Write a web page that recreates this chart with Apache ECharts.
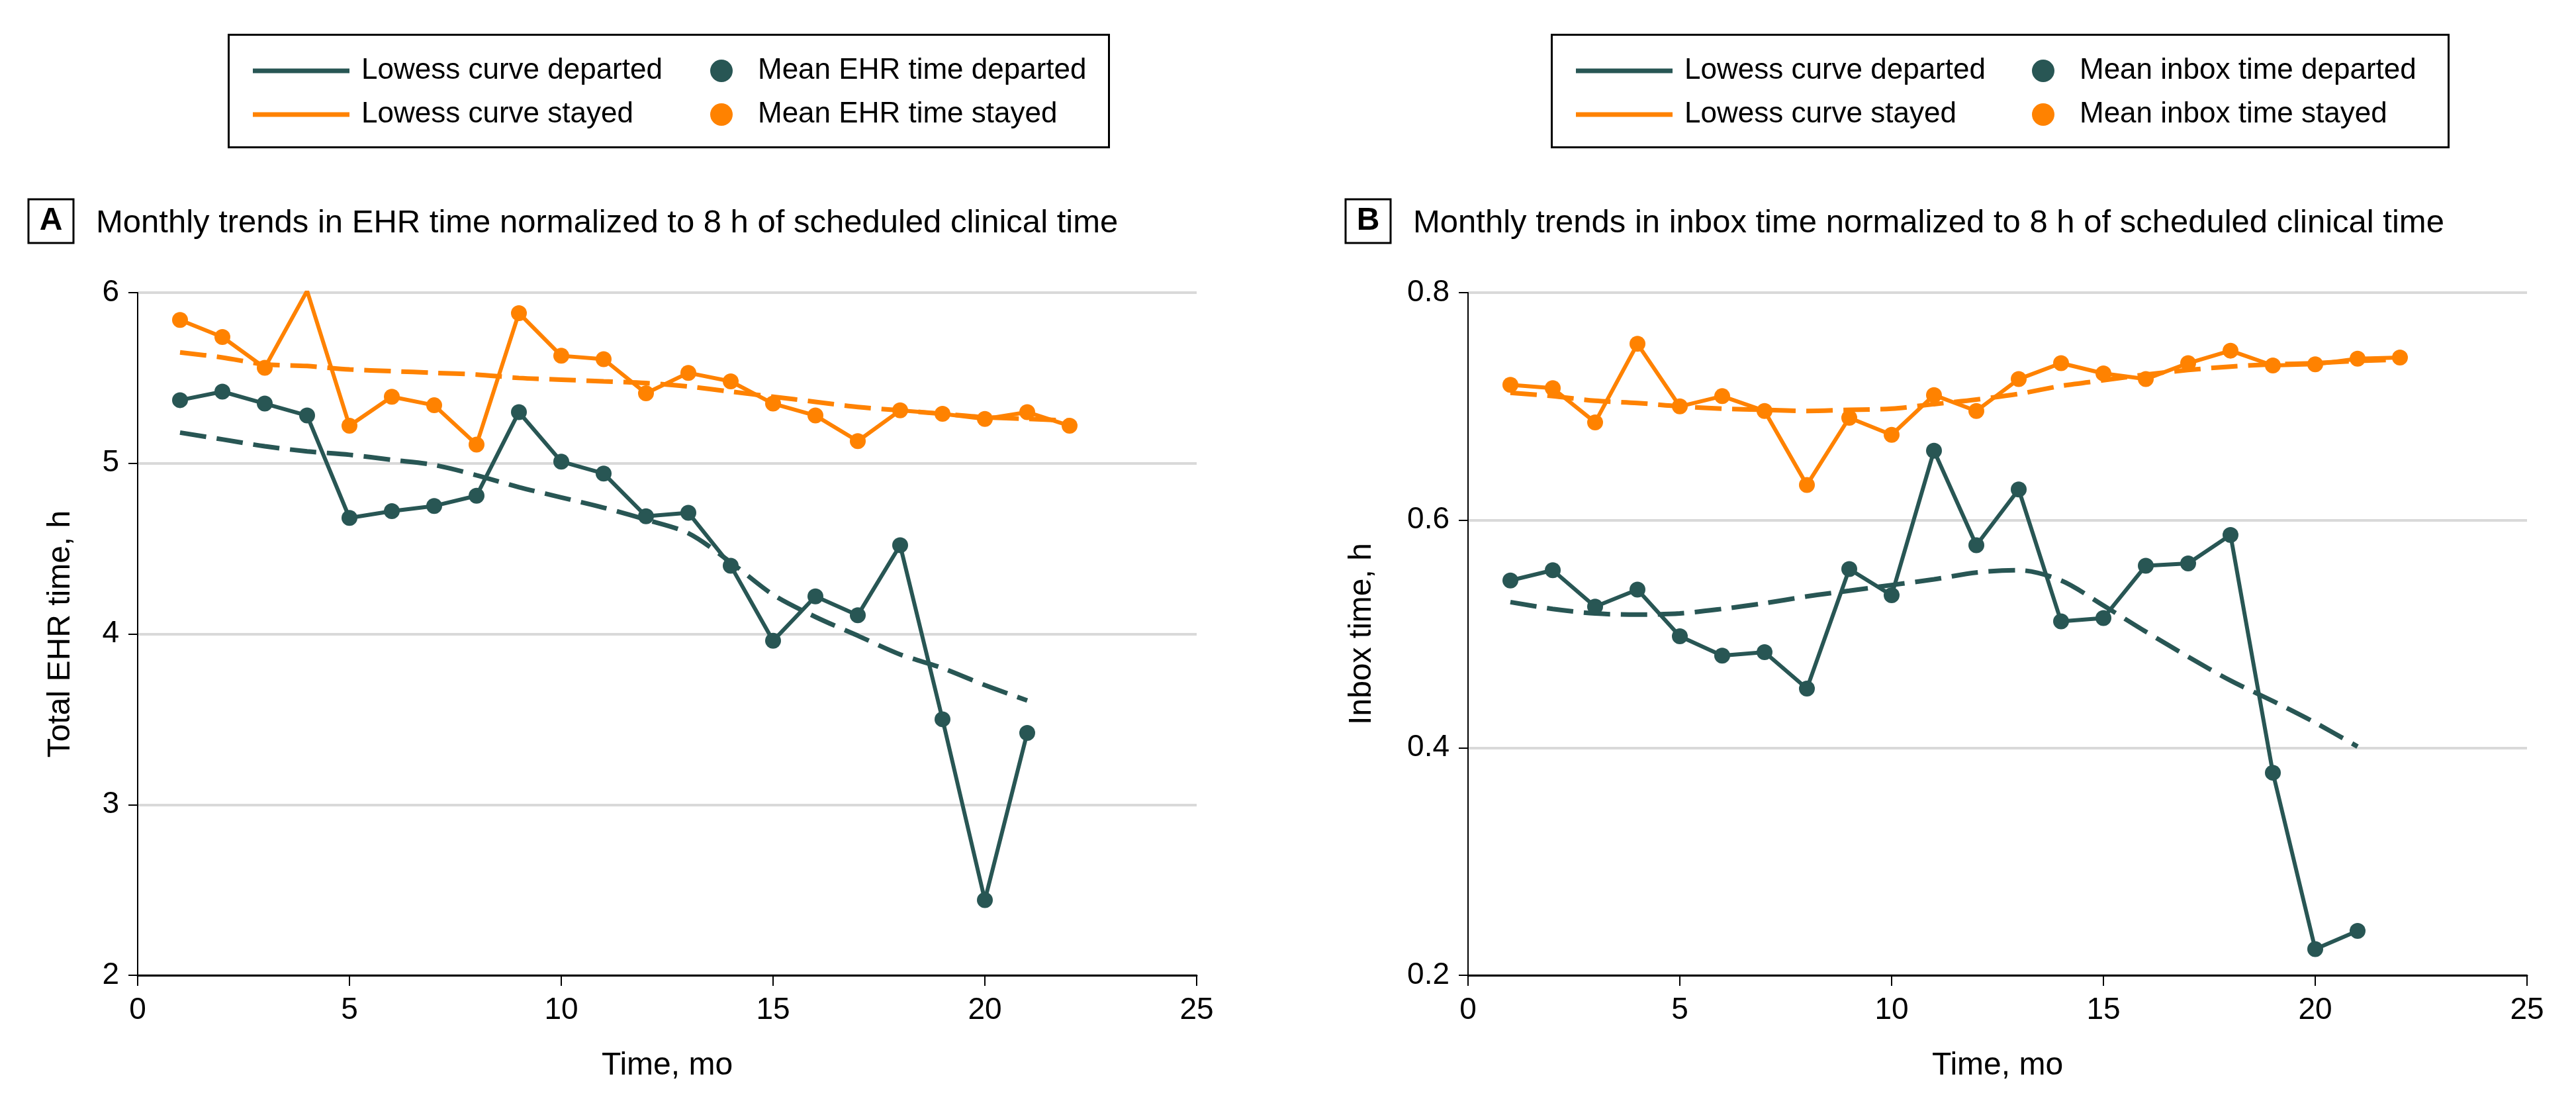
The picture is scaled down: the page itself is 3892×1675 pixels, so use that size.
<!DOCTYPE html>
<html>
<head>
<meta charset="utf-8">
<script src="https://cdn.jsdelivr.net/npm/echarts@6/dist/echarts.min.js"></script>
<style>
html,body{margin:0;padding:0;background:#fff;}
#c{width:3892px;height:1675px;}
</style>
</head>
<body>
<div id="c"></div>
<script>
// ---- Data ----
var monthsStayed = [1,2,3,4,5,6,7,8,9,10,11,12,13,14,15,16,17,18,19,20,21,22];
var monthsDeparted = [1,2,3,4,5,6,7,8,9,10,11,12,13,14,15,16,17,18,19,20,21];

var ehrStayed = [5.84,5.74,5.56,6.01,5.22,5.39,5.34,5.11,5.88,5.63,5.61,5.41,5.53,5.48,5.35,5.28,5.13,5.31,5.29,5.26,5.30,5.22];
var ehrDeparted = [5.37,5.42,5.35,5.28,4.68,4.72,4.75,4.81,5.30,5.01,4.94,4.69,4.71,4.40,3.96,4.22,4.11,4.52,3.50,2.44,3.42];
var ehrLowessStayed = [5.65,5.62,5.58,5.57,5.55,5.54,5.53,5.52,5.50,5.49,5.48,5.47,5.45,5.42,5.39,5.36,5.33,5.31,5.29,5.27,5.26,5.25];
var ehrLowessDeparted = [5.18,5.14,5.10,5.07,5.05,5.02,4.99,4.93,4.86,4.80,4.74,4.67,4.59,4.42,4.23,4.10,3.99,3.88,3.80,3.70,3.61];

var inboxStayed = [0.719,0.716,0.686,0.755,0.700,0.709,0.696,0.631,0.690,0.675,0.710,0.696,0.724,0.738,0.729,0.724,0.738,0.749,0.736,0.737,0.742,0.743];
var inboxDeparted = [0.547,0.556,0.524,0.539,0.498,0.481,0.484,0.452,0.557,0.534,0.661,0.578,0.627,0.511,0.514,0.560,0.562,0.587,0.378,0.223,0.239];
var inboxLowessStayed = [0.712,0.709,0.705,0.703,0.700,0.698,0.697,0.696,0.697,0.698,0.702,0.706,0.711,0.718,0.723,0.728,0.732,0.735,0.737,0.738,0.740,0.741];
var inboxLowessDeparted = [0.528,0.522,0.518,0.517,0.518,0.522,0.527,0.533,0.538,0.543,0.548,0.554,0.556,0.547,0.525,0.502,0.480,0.459,0.441,0.422,0.401];

var xTicks = [0,5,10,15,20,25];
var ehrTicks = [2,3,4,5,6];
var inboxTicks = [0.2,0.4,0.6,0.8];

var titleA = 'Monthly trends in EHR time normalized to 8 h of scheduled clinical time';
var titleB = 'Monthly trends in inbox time normalized to 8 h of scheduled clinical time';

// ---- Style ----
var GREEN = '#285654';
var ORANGE = '#ff8200';
var NARROW = "'Liberation Sans Narrow','Liberation Sans',Arial,sans-serif";
var SANS = "'Liberation Sans',Arial,sans-serif";

function pairs(xs, ys){ return xs.map(function(x,i){ return [x, ys[i]]; }); }

function xAxisCfg(gi){
  return {
    gridIndex: gi, type: 'value', min: xTicks[0], max: xTicks[xTicks.length-1], interval: xTicks[1]-xTicks[0],
    name: 'Time, mo', nameLocation: 'middle', nameGap: 113,
    nameTextStyle: {fontFamily: SANS, fontSize: 48, color: '#000'},
    axisLine: {show: true, onZero: false, lineStyle: {color: '#000', width: 3}},
    axisTick: {show: true, length: 16, lineStyle: {color: '#000', width: 2}},
    axisLabel: {fontFamily: SANS, fontSize: 46, color: '#000', margin: 30},
    splitLine: {show: false}
  };
}
function yAxisCfg(gi, min, max, interval, name, gap, fmt){
  return {
    gridIndex: gi, type: 'value', min: min, max: max, interval: interval,
    name: name, nameLocation: 'middle', nameRotate: 90, nameGap: gap,
    nameTextStyle: {fontFamily: SANS, fontSize: 48, color: '#000'},
    axisLine: {show: true, lineStyle: {color: '#000', width: 2}},
    axisTick: {show: true, length: 14, lineStyle: {color: '#000', width: 2}},
    axisLabel: {fontFamily: SANS, fontSize: 46, color: '#000', margin: 28, formatter: fmt},
    splitLine: {show: true, lineStyle: {color: '#d9d9d9', width: 4}}
  };
}
function dataSeries(name, gi, xs, ys, color, z){
  return {
    name: name, type: 'line', xAxisIndex: gi, yAxisIndex: gi,
    data: pairs(xs, ys), symbol: 'circle', symbolSize: 24, showSymbol: true,
    itemStyle: {color: color}, lineStyle: {color: color, width: 6}, z: z,
    animation: false
  };
}
function lowessSeries(name, gi, xs, ys, color, z){
  return {
    name: name, type: 'line', xAxisIndex: gi, yAxisIndex: gi,
    data: pairs(xs, ys), symbol: 'none', showSymbol: false, smooth: 0.3,
    itemStyle: {color: color}, lineStyle: {color: color, width: 7, type: [40, 16]}, z: z,
    animation: false
  };
}
function lineLegend(left){
  return {
    left: left, top: 77, orient: 'vertical', itemGap: 16,
    icon: 'rect', itemWidth: 146, itemHeight: 7,
    textStyle: {fontFamily: NARROW, fontSize: 44, color: '#000', padding: [0,0,0,13], lineHeight: 50},
    selectedMode: false,
    data: [{name: 'Lowess curve departed', itemStyle: {color: GREEN}}, {name: 'Lowess curve stayed', itemStyle: {color: ORANGE}}]
  };
}
function dotLegend(left, n1, n2){
  return {
    left: left, top: 77, orient: 'vertical', itemGap: 16,
    icon: 'circle', itemWidth: 34, itemHeight: 34,
    textStyle: {fontFamily: NARROW, fontSize: 44, color: '#000', padding: [0,0,0,33], lineHeight: 50},
    selectedMode: false,
    data: [{name: n1, itemStyle: {color: GREEN}}, {name: n2, itemStyle: {color: ORANGE}}]
  };
}
function boxTitle(letter, left){
  return {
    text: '{b|' + letter + '}', left: left, top: 301, padding: 0,
    textStyle: {rich: {b: {fontFamily: NARROW, fontWeight: 'bold', fontSize: 48, color: '#000',
      width: 68, height: 66, lineHeight: 66, align: 'center', verticalAlign: 'middle',
      borderColor: '#000', borderWidth: 3}}}
  };
}
function textTitle(text, left){
  return {
    text: text, left: left, top: 309, padding: 0,
    textStyle: {fontFamily: NARROW, fontSize: 49, fontWeight: 'normal', color: '#000', lineHeight: 56}
  };
}

var fmt1 = function(v){ return v.toFixed(1); };

var option = {
  backgroundColor: '#fff',
  animation: false,
  title: [boxTitle('A', 43), textTitle(titleA, 145), boxTitle('B', 2033), textTitle(titleB, 2135)],
  legend: [lineLegend(377), dotLegend(1068, 'Mean EHR time departed', 'Mean EHR time stayed'),
           lineLegend(2376), dotLegend(3065, 'Mean inbox time departed', 'Mean inbox time stayed')],
  grid: [
    {left: 208, right: 2084, top: 442, bottom: 202},
    {left: 2218, right: 74, top: 442, bottom: 202}
  ],
  xAxis: [xAxisCfg(0), xAxisCfg(1)],
  yAxis: [yAxisCfg(0, ehrTicks[0], ehrTicks[ehrTicks.length-1], ehrTicks[1]-ehrTicks[0], 'Total EHR time, h', 92, function(v){return String(v);}),
          yAxisCfg(1, inboxTicks[0], inboxTicks[inboxTicks.length-1], 0.2, 'Inbox time, h', 136, fmt1)],
  graphic: [
    {type: 'rect', left: 343, top: 50, shape: {width: 1330, height: 170}, style: {fill: 'none', stroke: '#000', lineWidth: 3}},
    {type: 'rect', left: 2342, top: 50, shape: {width: 1355, height: 170}, style: {fill: 'none', stroke: '#000', lineWidth: 3}}
  ],
  series: [
    lowessSeries('Lowess curve stayed', 0, monthsStayed, ehrLowessStayed, ORANGE, 2),
    dataSeries('Mean EHR time stayed', 0, monthsStayed, ehrStayed, ORANGE, 3),
    lowessSeries('Lowess curve departed', 0, monthsDeparted, ehrLowessDeparted, GREEN, 4),
    dataSeries('Mean EHR time departed', 0, monthsDeparted, ehrDeparted, GREEN, 5),
    lowessSeries('Lowess curve stayed', 1, monthsStayed, inboxLowessStayed, ORANGE, 2),
    dataSeries('Mean inbox time stayed', 1, monthsStayed, inboxStayed, ORANGE, 3),
    lowessSeries('Lowess curve departed', 1, monthsDeparted, inboxLowessDeparted, GREEN, 4),
    dataSeries('Mean inbox time departed', 1, monthsDeparted, inboxDeparted, GREEN, 5)
  ]
};
var chart = echarts.init(document.getElementById('c'), null, {renderer: 'canvas'});
chart.setOption(option);
</script>
</body>
</html>
